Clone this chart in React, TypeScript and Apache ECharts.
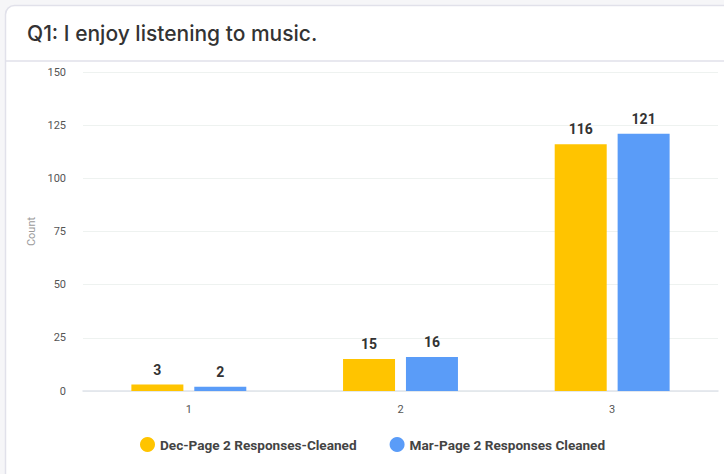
import React, { useEffect, useRef } from "react";
import * as echarts from "echarts";

const categories = ["1", "2", "3"];
const decValues = [3, 15, 116];
const marValues = [2, 16, 121];
const seriesNames = ["Dec-Page 2 Responses-Cleaned", "Mar-Page 2 Responses Cleaned"];
const titleText = "Q1: I enjoy listening to music.";

export default function App() {
  const ref = useRef<HTMLDivElement>(null);
  useEffect(() => {
    document.body.style.margin = "0";
    const chart = echarts.init(ref.current!, null, { renderer: "svg" });
    chart.setOption({
      animation: false,
      backgroundColor: "#f6f6f8",
      graphic: [
        {
          type: "rect",
          shape: { x: 5.5, y: 5.5, width: 740, height: 480, r: 9 },
          style: { fill: "#ffffff", stroke: "#e1e1ea", lineWidth: 1.5 },
          z: -10,
        },
        {
          type: "line",
          shape: { x1: 6, y1: 61, x2: 724, y2: 61 },
          style: { stroke: "#e1e1ea", lineWidth: 1.5 },
          z: -9,
        },
        {
          type: "text",
          x: 27,
          y: 33,
          style: {
            text: titleText,
            fontFamily: "Inter",
            fontSize: 21,
            fontWeight: 500,
            fill: "#333333",
            verticalAlign: "middle",
          },
        },
      ],
      grid: { left: 83, right: 6, top: 72, bottom: 83, containLabel: false },
      legend: {
        bottom: 17,
        left: 135,
        icon: "circle",
        itemWidth: 15,
        itemHeight: 15,
        itemGap: 33,
        textStyle: { fontFamily: "Roboto", fontSize: 13.6, fontWeight: "bold", color: "#444444" },
        data: seriesNames,
      },
      xAxis: {
        type: "category",
        data: categories,
        axisLine: { lineStyle: { color: "#dfe4ea", width: 1.5 } },
        axisTick: { show: false },
        axisLabel: { color: "#555555", fontFamily: "Roboto", fontSize: 11, margin: 13 },
      },
      yAxis: {
        type: "value",
        min: 0,
        max: 150,
        interval: 25,
        name: "Count",
        nameLocation: "middle",
        nameGap: 42,
        nameTextStyle: { color: "#9a9a9a", fontFamily: "Roboto", fontSize: 11 },
        axisLabel: { color: "#555555", fontFamily: "Roboto", fontSize: 11, margin: 17 },
        splitLine: { lineStyle: { color: "#eef2f0", width: 1 } },
      },
      series: [
        {
          name: seriesNames[0],
          type: "bar",
          data: decValues,
          itemStyle: { color: "#ffc400" },
          barWidth: 52,
          barGap: "21%",
          label: {
            show: true,
            position: "top",
            distance: 8,
            fontFamily: "Roboto",
            fontSize: 14,
            fontWeight: "bold",
            color: "#333333",
          },
        },
        {
          name: seriesNames[1],
          type: "bar",
          data: marValues,
          itemStyle: { color: "#5a9cf8" },
          barWidth: 52,
          label: {
            show: true,
            position: "top",
            distance: 8,
            fontFamily: "Roboto",
            fontSize: 14,
            fontWeight: "bold",
            color: "#333333",
          },
        },
      ],
    });
    return () => chart.dispose();
  }, []);
  return <div ref={ref} style={{ width: 724, height: 474, position: "absolute", left: 0, top: 0 }} />;
}
